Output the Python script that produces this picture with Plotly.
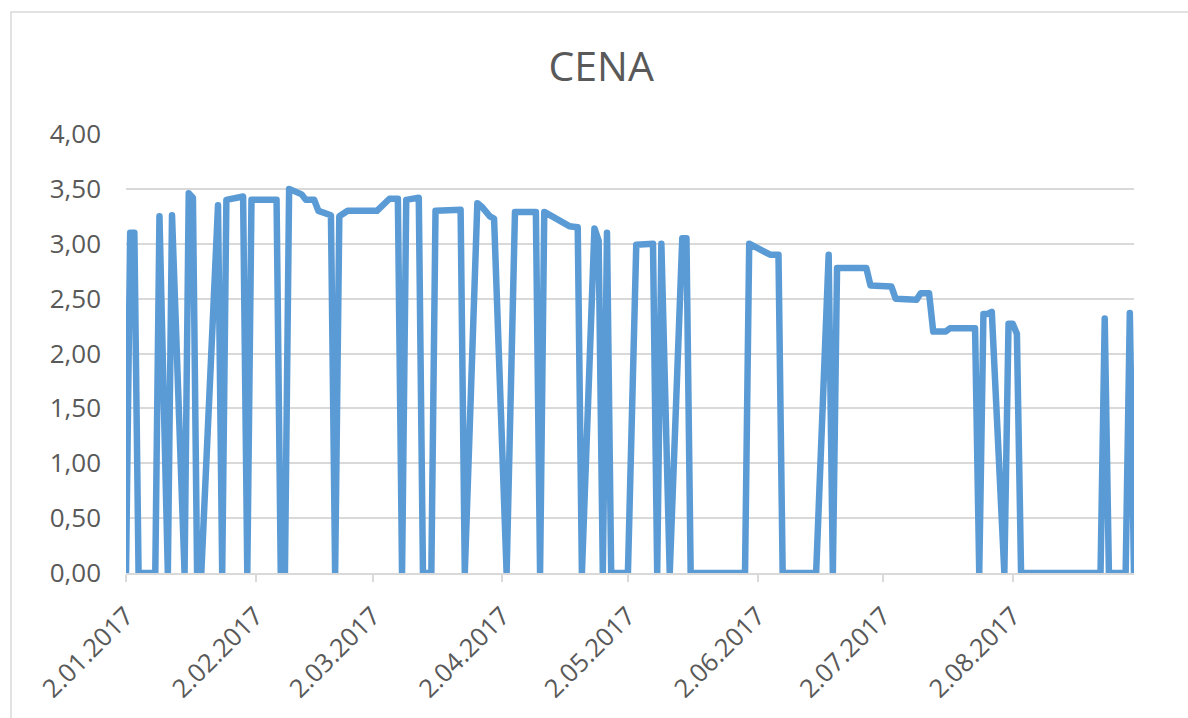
import plotly.graph_objects as go

# Data (date, price)
dates = [
    "2017-01-02", "2017-01-03", "2017-01-04", "2017-01-05", "2017-01-09", "2017-01-10",
    "2017-01-12", "2017-01-13", "2017-01-16", "2017-01-17", "2017-01-18", "2017-01-19",
    "2017-01-20", "2017-01-24", "2017-01-25", "2017-01-26", "2017-01-30", "2017-01-31",
    "2017-02-01", "2017-02-07", "2017-02-08", "2017-02-09", "2017-02-10", "2017-02-13",
    "2017-02-14", "2017-02-16", "2017-02-17", "2017-02-20", "2017-02-21", "2017-02-22",
    "2017-02-24", "2017-03-03", "2017-03-06", "2017-03-08", "2017-03-09", "2017-03-10",
    "2017-03-13", "2017-03-14", "2017-03-16", "2017-03-17", "2017-03-23", "2017-03-24",
    "2017-03-27", "2017-03-28", "2017-03-30", "2017-03-31", "2017-04-03", "2017-04-05",
    "2017-04-10", "2017-04-11", "2017-04-12", "2017-04-18", "2017-04-20", "2017-04-21",
    "2017-04-24", "2017-04-25", "2017-04-26", "2017-04-27", "2017-04-28", "2017-05-02",
    "2017-05-04", "2017-05-08", "2017-05-09", "2017-05-10", "2017-05-12", "2017-05-15",
    "2017-05-16", "2017-05-17", "2017-05-30", "2017-05-31", "2017-06-02", "2017-06-05",
    "2017-06-07", "2017-06-08", "2017-06-16", "2017-06-19", "2017-06-20", "2017-06-21",
    "2017-06-28", "2017-06-29", "2017-07-04", "2017-07-05", "2017-07-10", "2017-07-11",
    "2017-07-13", "2017-07-14", "2017-07-17", "2017-07-18", "2017-07-24", "2017-07-25",
    "2017-07-26", "2017-07-27", "2017-07-28", "2017-07-31", "2017-08-01", "2017-08-02",
    "2017-08-03", "2017-08-04", "2017-08-23", "2017-08-24", "2017-08-25", "2017-08-29",
    "2017-08-30", "2017-08-31",
]
cena = [
    0, 3.10, 3.10, 0, 0, 3.25,
    0, 3.26, 0, 3.46, 3.42, 0,
    0, 3.35, 0, 3.40, 3.43, 0,
    3.40, 3.40, 0, 0, 3.50, 3.45,
    3.40, 3.40, 3.30, 3.26, 0, 3.25,
    3.30, 3.30, 3.41, 3.41, 0, 3.40,
    3.42, 0, 0, 3.30, 3.31, 0,
    3.37, 3.34, 3.25, 3.23, 0, 3.29,
    3.29, 0, 3.29, 3.16, 3.15, 0,
    3.14, 3.03, 0, 3.10, 0, 0,
    2.99, 3.00, 0, 3.00, 0, 3.05,
    3.05, 0, 0, 3.00, 2.96, 2.90,
    2.90, 0, 0, 2.90, 0, 2.78,
    2.78, 2.62, 2.61, 2.50, 2.49, 2.55,
    2.55, 2.20, 2.20, 2.23, 2.23, 0,
    2.36, 2.36, 2.38, 0, 2.27, 2.27,
    2.18, 0, 0, 2.32, 0, 0,
    2.37, 0,
]

tick_dates = ["2017-01-02", "2017-02-02", "2017-03-02", "2017-04-02",
              "2017-05-02", "2017-06-02", "2017-07-02", "2017-08-02"]
tick_labels = ["2.01.2017", "2.02.2017", "2.03.2017", "2.04.2017",
               "2.05.2017", "2.06.2017", "2.07.2017", "2.08.2017"]
y_ticks = [0, 0.5, 1, 1.5, 2, 2.5, 3, 3.5, 4]
y_labels = ["0,00", "0,50", "1,00", "1,50", "2,00", "2,50", "3,00", "3,50", "4,00"]

FONT = "Open Sans, Roboto, sans-serif"
TXT = "#595959"
GRID = "#d9d9d9"

fig = go.Figure()
fig.add_trace(go.Scatter(
    x=dates, y=cena, mode="lines",
    line=dict(color="#5b9bd5", width=6.5),
    hoverinfo="x+y", showlegend=False,
))

fig.update_layout(
    width=1188, height=718,
    paper_bgcolor="white", plot_bgcolor="white",
    margin=dict(l=126, r=54, t=134, b=145, autoexpand=False),
    title=dict(text="CENA", x=0.506, xref="container", xanchor="center",
               y=1 - 67 / 718, yref="container", yanchor="middle",
               font=dict(family=FONT, size=41, color=TXT)),
    xaxis=dict(
        type="date", range=["2017-01-02", "2017-08-31"],
        tickmode="array", tickvals=tick_dates, ticktext=tick_labels,
        tickangle=-45, ticks="outside", ticklen=7, tickwidth=1.5, tickcolor=GRID,
        ticklabelstandoff=9,
        showgrid=False, showline=True, linecolor=GRID, linewidth=1.5,
        zeroline=False,
        tickfont=dict(family=FONT, size=25.5, color=TXT),
    ),
    yaxis=dict(
        range=[0, 4], tickmode="array", tickvals=y_ticks, ticktext=y_labels,
        showgrid=True, gridcolor=GRID, gridwidth=1.5,
        zeroline=False, showline=False, ticks="",
        ticklabelstandoff=24,
        tickfont=dict(family=FONT, size=26, color=TXT),
    ),
    shapes=[dict(type="rect", xref="paper", yref="paper",
                 x0=-115 / 1008, x1=(1200 - 126) / 1008,
                 y0=-160 / 439, y1=1 + 122 / 439,
                 line=dict(color=GRID, width=1.5), fillcolor="rgba(0,0,0,0)",
                 layer="below")],
)

fig.write_html("out.html", config={"displayModeBar": False}, post_script="""
document.body.style.margin='0';
document.body.style.padding='0';
document.querySelectorAll('.scatterlayer path.js-line').forEach(function(p){p.style.strokeLinejoin='round';});
""")
